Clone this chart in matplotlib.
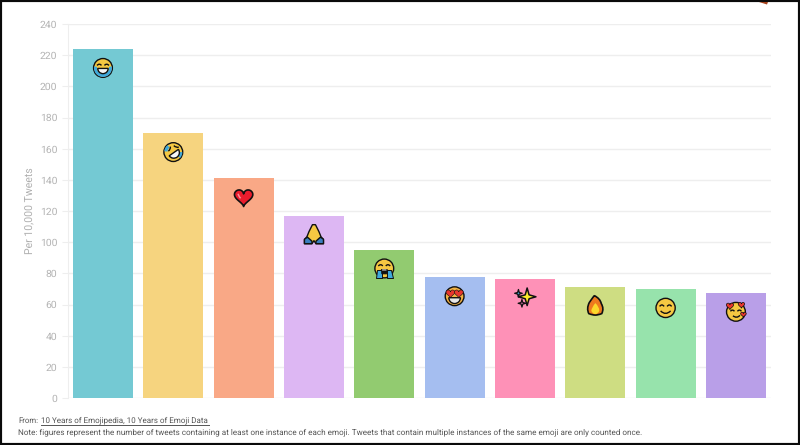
import numpy as np
import matplotlib
matplotlib.use("Agg")
import matplotlib.pyplot as plt
from matplotlib.patches import Circle, Polygon, PathPatch, Wedge, Rectangle
from matplotlib.path import Path
from matplotlib.transforms import Affine2D

plt.rcParams['font.family'] = ['Roboto', 'DejaVu Sans']
plt.rcParams['text.hinting'] = 'none'

categories = ['joy', 'rofl', 'heart', 'pray', 'sob', 'heart_eyes', 'sparkles', 'fire', 'smile', 'smiling_hearts']
values = [224, 170, 141, 117, 95, 77.5, 76.5, 71.5, 70, 67.5]
colors = ['#74C9D3', '#F6D47F', '#F9A886', '#DDB7F3', '#92CB70', '#A5BEF0', '#FE91B7', '#CEDD82', '#97E3AC', '#B99FE8']
yticks = list(range(0, 241, 20))
ylabel = 'Per 10,000 Tweets'
source_prefix = 'From:'
source_link = '10 Years of Emojipedia, 10 Years of Emoji Data'
note = ('Note: figures represent the number of tweets containing at least one instance of each emoji. '
        'Tweets that contain multiple instances of the same emoji are only counted once.')

W, H = 800, 445
fig = plt.figure(figsize=(W / 100, H / 100), dpi=100, facecolor='white')
ax = fig.add_axes([67.8 / W, (H - 398) / H, 703.3 / W, 374 / H])
ax.set_xlim(-0.5, len(values) - 0.5)
ax.set_ylim(0, 240)
ax.set_axisbelow(True)
ax.grid(axis='y', color='#EEEEEE', lw=1)
ax.bar(range(len(values)), values, width=0.852, color=colors)
ax.set_xticks([])
ax.set_yticks(yticks)
ax.tick_params(axis='y', length=4, color='#EEEEEE', labelcolor='#B4B4B4', labelsize=7.5, pad=3.5)
for s in ['top', 'right', 'bottom']:
    ax.spines[s].set_visible(False)
ax.spines['left'].set_color('#EEEEEE')
ax.set_ylabel(ylabel, color='#B0B0B0', fontsize=7.6)
ax.yaxis.set_label_coords((36 - 67.8) / 703.3, 0.5)

fig.canvas.draw()
K = '#111111'
Y = '#F5C842'
B = '#3FA9DC'
LW = 1.0


def smooth(points):
    verts = [points[0]]
    codes = [Path.MOVETO]
    for i in range(1, len(points) - 1, 2):
        verts += [points[i], points[i + 1]]
        codes += [Path.CURVE3, Path.CURVE3]
    return Path(verts, codes)


def emoji(i, name):
    cx, cy = ax.transData.transform((i, values[i]))
    tr = Affine2D().translate(cx, cy - 19)

    def add(p):
        p.set_transform(tr)
        p.set_clip_on(False)
        ax.add_patch(p)

    def circ(x, y, r, fc, lw=LW, ec=K):
        add(Circle((x, y), r, fc=fc, ec=ec, lw=lw))

    def poly(pts, fc, lw=LW, ec=K):
        add(Polygon(pts, closed=True, fc=fc, ec=ec, lw=lw, joinstyle='round'))

    def curve(pts, fc='none', lw=LW, ec=K):
        add(PathPatch(smooth(pts), fc=fc, ec=ec, lw=lw))

    def heart(x, y, s, fc, lw=LW):
        t = np.linspace(0, 2 * np.pi, 50)
        hx = 16 * np.sin(t) ** 3 / 16 * s + x
        hy = (13 * np.cos(t) - 5 * np.cos(2 * t) - 2 * np.cos(3 * t) - np.cos(4 * t)) / 16 * s + y
        poly(np.column_stack([hx, hy]), fc, lw=lw)

    def star(x, y, r, fc, lw=LW):
        q = r * 0.22
        poly([(x, y + r), (x + q, y + q), (x + r, y), (x + q, y - q),
              (x, y - r), (x - q, y - q), (x - r, y), (x - q, y + q)], fc, lw=lw)

    def mouth(x, y, w, fc='#F7F7F7'):
        add(Wedge((x, y), w, 180, 360, fc=fc, ec=K, lw=LW))

    if name == 'joy':
        circ(0, 0, 9.4, Y)
        add(Wedge((0, 0), 9.0, 170, 370, width=3.0, fc=B, ec='none'))
        mouth(0, -0.5, 5.2)
        curve([(-6, 2.5), (-3.5, 5), (-1.5, 2.5)])
        curve([(1.5, 2.5), (3.5, 5), (6, 2.5)])
    elif name == 'rofl':
        circ(0, 0, 9.4, Y)
        add(Wedge((0, 0), 9.0, 320, 360, width=3.2, fc=B, ec='none'))
        add(Wedge((0, 0), 9.0, 130, 175, width=3.2, fc=B, ec='none'))
        add(Wedge((0.5, -0.5), 5.6, 215, 395, fc='#F7F7F7', ec=K, lw=LW))
        curve([(-5, 1), (-2.5, 2.5), (-3, 5.5)])
        curve([(0.5, 6.5), (3, 4), (5.5, 5)])
    elif name == 'heart':
        heart(0, 0.5, 9.2, '#EA1C2D', lw=1.2)
        curve([(-5.5, 3.5), (-5, 1), (-3, -1)], ec='#F8909A', lw=1.1)
    elif name == 'pray':
        poly([(-1.5, 10), (1.5, 10), (5, 3), (7, -2), (9.5, -5), (9.5, -9), (2, -9), (0, -6), (-2, -9), (-9.5, -9), (-9.5, -5), (-7, -2), (-5, 3)], Y)
        poly([(-9.5, -4.5), (-6.5, -2.5), (-2, -6.5), (-2, -9), (-9.5, -9)], '#3A7FC0')
        poly([(9.5, -4.5), (6.5, -2.5), (2, -6.5), (2, -9), (9.5, -9)], '#3A7FC0')
        add(Rectangle((-0.25, -6), 0.5, 15, fc=K, ec='none'))
    elif name == 'sob':
        circ(0, 0.5, 9.4, Y)
        poly([(-7, -1), (-2.5, -1), (-2.5, -9.5), (-8.5, -9.5)], B, lw=0.7)
        poly([(7, -1), (2.5, -1), (2.5, -9.5), (8.5, -9.5)], B, lw=0.7)
        curve([(-6, 3), (-3.5, 5.5), (-1.5, 3)])
        curve([(1.5, 3), (3.5, 5.5), (6, 3)])
        poly([(-2.5, -5), (2.5, -5), (3, -0.5), (-3, -0.5)], K, lw=0.5)
        poly([(-2.3, -1.5), (2.3, -1.5), (2, -0.5), (-2, -0.5)], '#F7F7F7', lw=0)
    elif name == 'heart_eyes':
        circ(0, 0, 9.4, '#F5B342')
        mouth(0, -1.5, 5.8, fc='#E8E8E8')
        heart(-4.2, 3, 4.4, '#E8362D', lw=0.4)
        heart(4.2, 3, 4.4, '#E8362D', lw=0.4)
    elif name == 'sparkles':
        star(2.2, 1, 8.8, '#FCEB2B', lw=1.1)
        star(-6.5, 4.5, 3.8, B, lw=0.9)
        star(-3, -5.5, 3.8, '#E06FB0', lw=0.9)
    elif name == 'fire':
        add(PathPatch(Path(
            [(-1, 10), (5, 7), (6, 2), (9, -3), (6.5, -8), (3, -9.5), (0, -9.5), (-3, -9.5), (-6.5, -8), (-9, -3), (-6, 3), (-4, 6), (-1, 10)],
            [Path.MOVETO] + [Path.CURVE3] * 12), fc='#EE7A1F', ec=K, lw=1.2))
        add(PathPatch(Path(
            [(0, 2.5), (4, -1), (4, -5), (3, -8.5), (0, -8.5), (-3, -8.5), (-4, -5), (-3.5, -2), (0, 2.5)],
            [Path.MOVETO] + [Path.CURVE3] * 8), fc='#FCD82B', ec='none'))
    elif name == 'smile':
        circ(0, 0, 9.6, Y)
        curve([(-6, 1.5), (-3.7, 4.5), (-1.5, 1.5)])
        curve([(1.5, 1.5), (3.7, 4.5), (6, 1.5)])
        curve([(-5, -3), (0, -8), (5, -3)])
    elif name == 'smiling_hearts':
        circ(0, 0, 9.4, Y)
        curve([(-5.5, 0.5), (-3.5, 3), (-1.5, 0.5)])
        curve([(1.5, 0.5), (3.5, 3), (5.5, 0.5)])
        curve([(-3, -4), (1, -7), (4, -3.5)])
        heart(-6, 6, 3.6, '#E8362D', lw=0.5)
        heart(5.5, 7, 3.2, '#E8362D', lw=0.5)
        heart(7.5, -2.5, 2.8, '#E8362D', lw=0.5)


for i, name in enumerate(categories):
    emoji(i, name)


def px(x, y):
    return x / W, (H - y) / H


def fitted(x, y, s, width):
    """Text at pixel position, sized so that it spans the given pixel width."""
    t = fig.text(*px(x, y), s, color='#555555', fontsize=9, va='baseline', ha='left')
    t.set_fontsize(9 * width / t.get_window_extent(fig.canvas.get_renderer()).width)
    return t


fitted(18, 422.5, source_prefix, 20)
fitted(41, 422.5, source_link, 168)
fitted(18, 434.5, note, 624)
fig.add_artist(plt.Line2D([41 / W, 209 / W], [(H - 424.5) / H] * 2, color='#555555', lw=0.7))

# screenshot's black frame and the clipped mark in the top-right corner
fig.add_artist(Rectangle((0, 0), 1, 1, transform=fig.transFigure, fill=False, ec='#0A0A0A', lw=3))
fig.add_artist(Polygon([px(759, 2), px(768, 2), px(767, 4.5)], closed=True, transform=fig.transFigure, fc='#A5421C', ec='none'))

fig.savefig('out.png', dpi=100, facecolor='white')
